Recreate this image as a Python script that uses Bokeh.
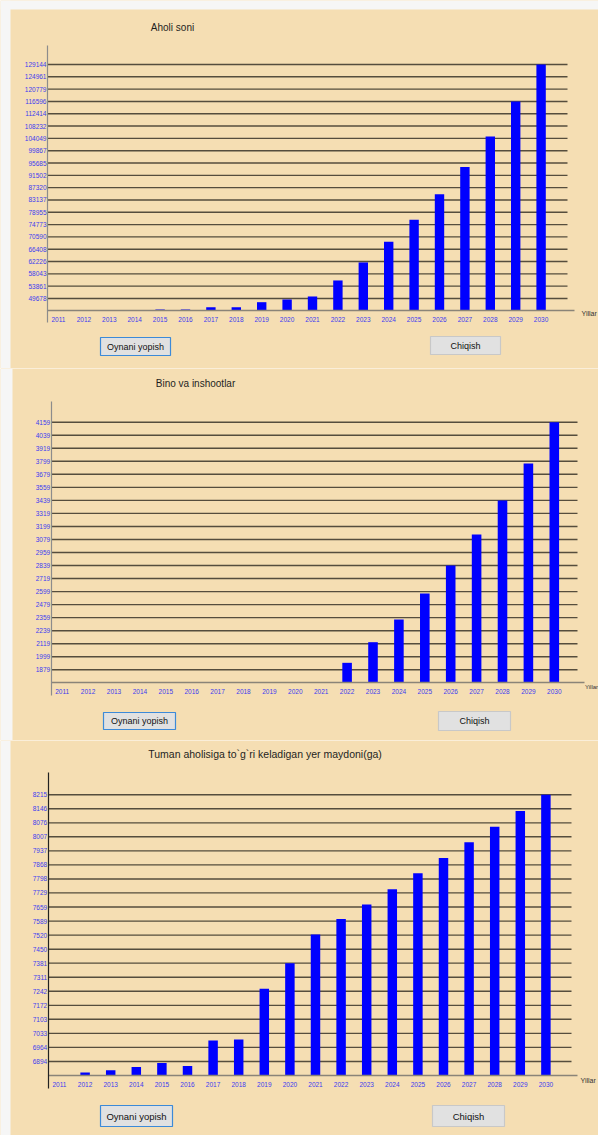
from bokeh.plotting import figure
from bokeh.layouts import column
from bokeh.models import FixedTicker, Label, BoxAnnotation, Range1d, BasicTickFormatter
from bokeh.embed import file_html
from bokeh.resources import INLINE

# ---------------- data ----------------
years = [2011, 2012, 2013, 2014, 2015, 2016, 2017, 2018, 2019, 2020,
         2021, 2022, 2023, 2024, 2025, 2026, 2027, 2028, 2029, 2030]

aholi_title = "Aholi soni"
aholi_values = [45496, 45496, 45770, 45770, 45940, 45940, 46720, 46720, 48420, 49340,
                50360, 55800, 61920, 68960, 76440, 85040, 94320, 104660, 116560, 129144]
aholi_ticks = [49678, 53861, 58043, 62226, 66408, 70590, 74773, 78955, 83137, 87320,
               91502, 95685, 99867, 104049, 108232, 112414, 116596, 120779, 124961, 129144]

bino_title = "Bino va inshootlar"
bino_values = [1759, 1759, 1759, 1759, 1759, 1759, 1759, 1759, 1759, 1759,
               1759, 1943, 2133, 2342, 2581, 2839, 3125, 3438, 3779, 4159]
bino_ticks = [1879, 1999, 2119, 2239, 2359, 2479, 2599, 2719, 2839, 2959,
              3079, 3199, 3319, 3439, 3559, 3679, 3799, 3919, 4039, 4159]

yer_title = "Tuman aholisiga to`g`ri keladigan yer maydoni(ga)"
yer_values = [6825, 6839, 6851, 6867, 6886, 6871, 6998, 7003, 7254, 7381,
              7523, 7600, 7672, 7747, 7826, 7902, 7980, 8057, 8135, 8215]
yer_ticks = [6894, 6964, 7033, 7103, 7172, 7242, 7311, 7381, 7450, 7520,
             7589, 7659, 7729, 7798, 7868, 7937, 8007, 8076, 8146, 8215]

x_label = "Yillar"
btn_close = "Oynani yopish"
btn_exit = "Chiqish"

# ---------------- styling ----------------
W = 598
BG = "#f5deb3"
BAR = "#0000ff"
TICK_TXT = "#3c3cf0"
GRID = "#554d3d"
FONT = "Liberation Sans"
EDGE = "#f6f6f6"


def make_panel(title, values, ticks, g):
    h = g["h"]
    step = (ticks[-1] - ticks[0]) / (len(ticks) - 1)
    base = ticks[0] - step
    step_px = (g["base_py"] - g["top_py"]) / len(ticks)

    def xd(px):
        return years[0] + (px - g["x0"]) / g["dx"]

    def yd(py):
        return base + (g["base_py"] - py) * step / step_px

    p = figure(width=W, height=h, output_backend="svg", toolbar_location=None,
               x_range=Range1d(xd(0), xd(W)), y_range=Range1d(yd(h), yd(0)),
               min_border=0)
    p.background_fill_color = BG
    p.border_fill_color = BG
    p.outline_line_color = None
    p.grid.visible = False

    # horizontal grid lines at the tick values
    p.segment(x0=[xd(g["ax"])] * len(ticks), x1=[xd(g["grid_r"])] * len(ticks),
              y0=ticks, y1=ticks, line_color=GRID, line_width=1.4)

    p.vbar(x=years, top=values, bottom=base, width=0.37,
           fill_color=BAR, line_color=None)

    yax = p.yaxis[0]
    yax.fixed_location = xd(g["ax"])
    yax.bounds = (yd(g["ax_bot"]), yd(g["ax_top"]))
    yax.ticker = FixedTicker(ticks=ticks)
    yax.formatter = BasicTickFormatter(use_scientific=False)
    yax.axis_line_color = g["yaxis"]
    yax.axis_line_width = 1.2
    yax.major_tick_line_color = None
    yax.minor_tick_line_color = None
    yax.major_tick_out = 0
    yax.major_tick_in = 0
    yax.major_label_standoff = 1
    yax.major_label_text_font_size = "6.5px"
    yax.major_label_text_color = TICK_TXT
    yax.major_label_text_font = FONT

    xax = p.xaxis[0]
    xax.fixed_location = base
    xax.bounds = (xd(g["ax"]), xd(g["axis_r"]))
    xax.ticker = FixedTicker(ticks=years)
    xax.axis_line_color = "#8a8478"
    xax.axis_line_width = 1.5
    xax.major_tick_line_color = None
    xax.minor_tick_line_color = None
    xax.major_tick_out = 0
    xax.major_tick_in = 0
    xax.major_label_standoff = 6
    xax.major_label_text_font_size = "6.5px"
    xax.major_label_text_color = TICK_TXT
    xax.major_label_text_font = FONT

    # light strips outside the window (screenshot edges)
    for (l, r, t, b) in g["edges"]:
        p.add_layout(BoxAnnotation(left=l, right=r, top=t, bottom=b,
                                   left_units="canvas", right_units="canvas",
                                   top_units="canvas", bottom_units="canvas",
                                   fill_color=EDGE, fill_alpha=1.0, line_color=None))

    p.add_layout(Label(x=g["tx"], y=g["ty"], x_units="canvas", y_units="canvas",
                       text=title, text_align="center", text_baseline="middle",
                       text_font=FONT, text_font_size=g["tfs"], text_color="#1e1e1e"))
    p.add_layout(Label(x=g["yx"], y=g["yy"], x_units="canvas", y_units="canvas",
                       text=x_label, text_align="left", text_baseline="middle",
                       text_font=FONT, text_font_size=g["yfs"], text_color="#333333"))

    for (l, r, t, b, edge, txt) in [(*g["b1"], "#3c8ad8", btn_close), (*g["b2"], "#c8c8c8", btn_exit)]:
        p.add_layout(BoxAnnotation(left=l, right=r, top=t, bottom=b,
                                   left_units="canvas", right_units="canvas",
                                   top_units="canvas", bottom_units="canvas",
                                   fill_color="#e1e1e1", fill_alpha=1.0,
                                   line_color=edge, line_width=1.2, line_alpha=1.0))
        p.add_layout(Label(x=(l + r) / 2, y=(t + b) / 2, x_units="canvas", y_units="canvas",
                           text=txt, text_align="center", text_baseline="middle",
                           text_font=FONT, text_font_size=g["bfs"], text_color="#111111"))
    return p


g1 = dict(h=368, ax=47, ax_top=45, ax_bot=322, base_py=310.3, top_py=64, x0=58, dx=25.4,
          grid_r=567, axis_r=574, yaxis="#8c8c8c",
          tx=172, ty=27, tfs="10px", yx=581, yy=313, yfs="7px",
          edges=[(0, 10, 0, 368), (0, 598, 0, 9)],
          b1=(100, 170, 337, 355), b2=(430, 500, 336, 354), bfs="9px")
g2 = dict(h=372, ax=50.7, ax_top=33, ax_bot=327, base_py=314.3, top_py=53.7, x0=61.7, dx=25.9,
          grid_r=577, axis_r=584, yaxis="#8c8c8c",
          tx=195, ty=15, tfs="10px", yx=584.5, yy=318, yfs="6px",
          edges=[(0, 12, 0, 372)],
          b1=(103, 175, 344, 361), b2=(438, 510, 343, 362), bfs="9px")
g3 = dict(h=395, ax=47.7, ax_top=32.3, ax_bot=347.7, base_py=335, top_py=54.3, x0=59, dx=25.6,
          grid_r=571, axis_r=577, yaxis="#222222",
          tx=264.5, ty=13.3, tfs="10.5px", yx=580, yy=340, yfs="7px",
          edges=[(0, 10, 0, 395)],
          b1=(100, 172, 365, 386), b2=(432, 504, 365, 386), bfs="9.5px")

p1 = make_panel(aholi_title, aholi_values, aholi_ticks, g1)
p2 = make_panel(bino_title, bino_values, bino_ticks, g2)
p3 = make_panel(yer_title, yer_values, yer_ticks, g3)

layout = column(p1, p2, p3, spacing=0)
open("out.html", "w").write(file_html(layout, INLINE))
